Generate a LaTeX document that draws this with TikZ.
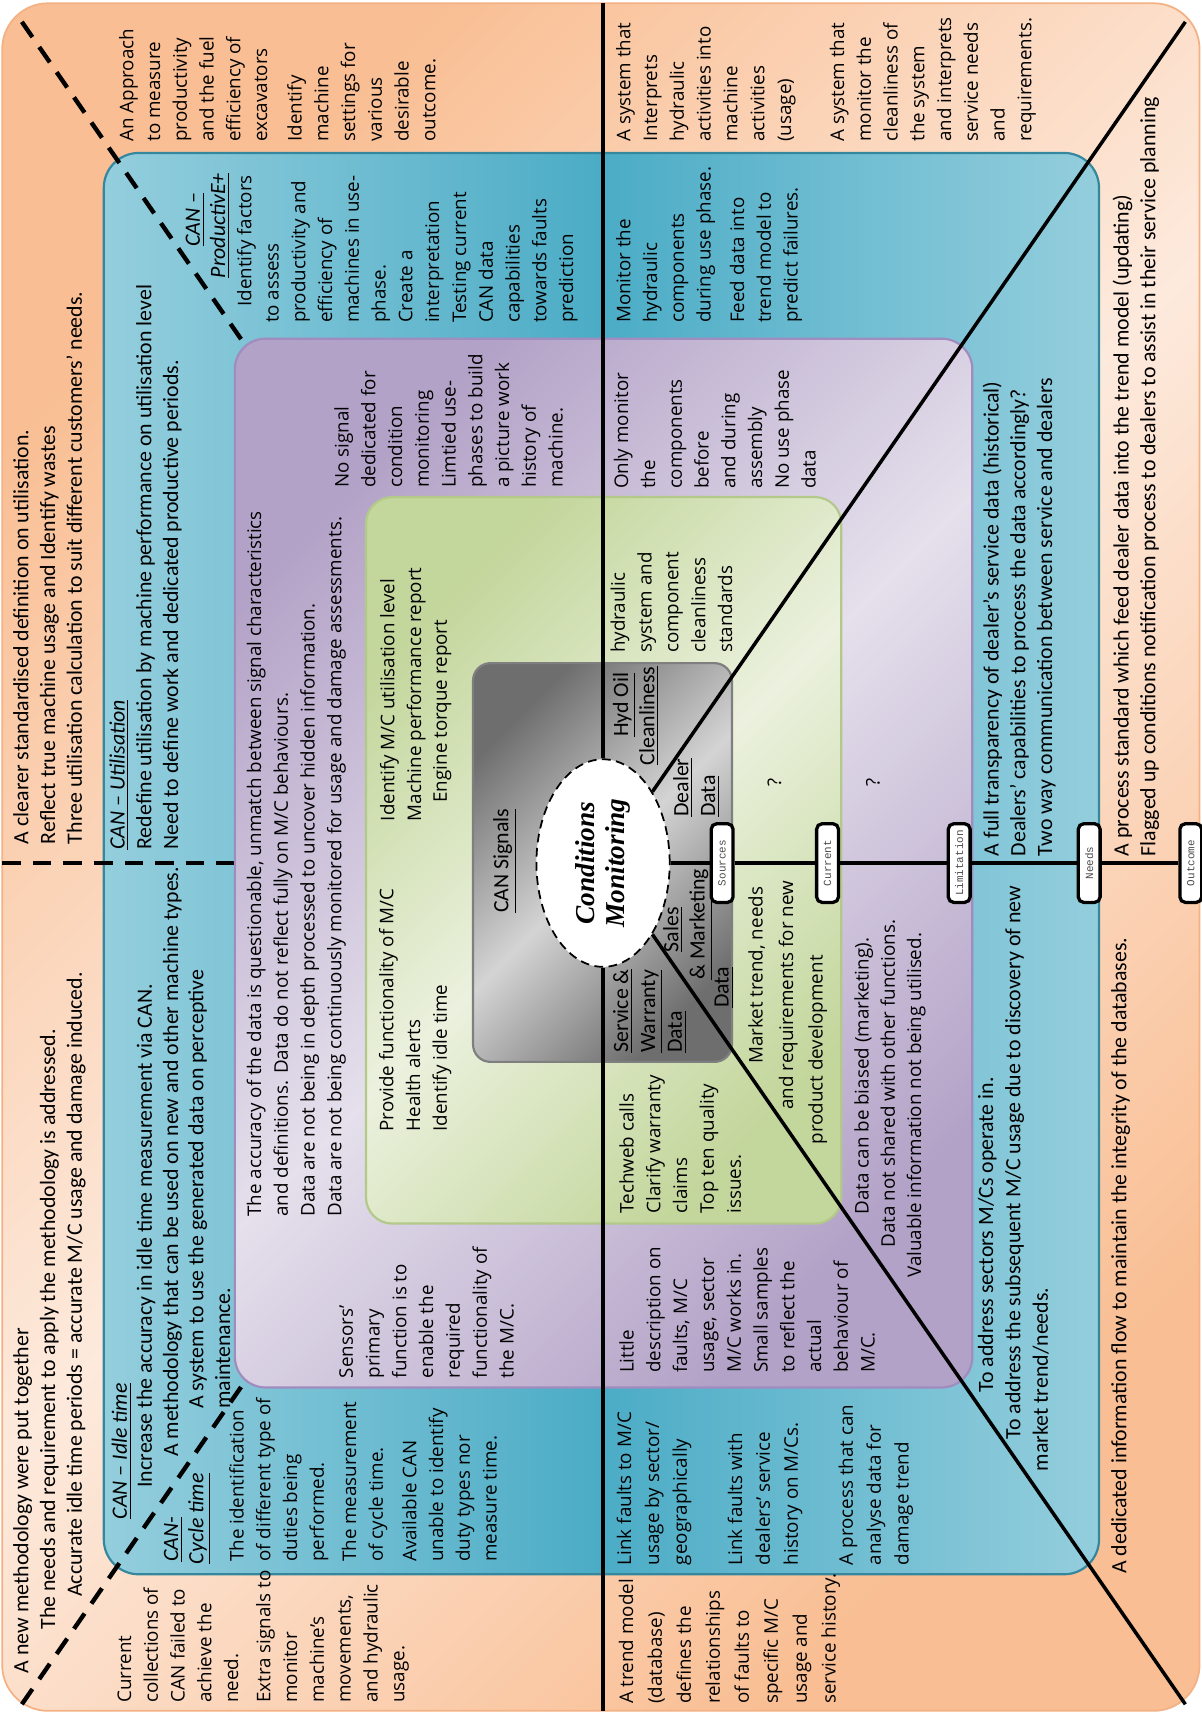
\documentclass[tikz,border=0pt]{standalone}
\usepackage{fontspec}
\usetikzlibrary{shapes.geometric}
\newfontfamily\osans{Open Sans}
\newfontfamily\carl{Carlito}
\newfontfamily\monof{Liberation Mono}
\newfontfamily\serbi{Liberation Serif}
\newcommand\wtxt{\osans\fontsize{8.6}{12.25}\selectfont}
\newcommand\ntxt{\carl\fontsize{10}{12.25}\selectfont}
% rotated text block: name, centre of first line (x), start of lines (y), font, text
\newcommand\rtx[5]{\node[rt,font=#4] (#1) at ({#2-11.5},#3) {\strut #5};}

\definecolor{orD}{HTML}{F9BE93}
\definecolor{orL}{HTML}{FDEADD}
\definecolor{orB}{HTML}{F4B183}
\definecolor{blD}{HTML}{4BACC6}
\definecolor{blL}{HTML}{94CEDD}
\definecolor{blB}{HTML}{35879E}
\definecolor{puD}{HTML}{B3A2C7}
\definecolor{puL}{HTML}{E5E0EC}
\definecolor{puB}{HTML}{A08CBE}
\definecolor{grD}{HTML}{C3D69B}
\definecolor{grL}{HTML}{EBF1DE}
\definecolor{grB}{HTML}{B2C98A}
\definecolor{gyD}{HTML}{6E6E6E}
\definecolor{gyL}{HTML}{D4D4D4}
\definecolor{gyB}{HTML}{7F7F7F}

\begin{document}
\begin{tikzpicture}[x=0.5pt,y=-0.5pt,
  rt/.style={rotate=90,anchor=north west,inner sep=0pt,align=left},
  solidline/.style={line width=1.6pt},
  dashline/.style={line width=2pt,dash pattern=on 8.5pt off 5.5pt},
  tag/.style={draw,line width=1.5pt,fill=white,rounded corners=2.5pt,rotate=90,
    minimum width=36pt,minimum height=10pt,inner sep=0pt,
    font=\monof\fontsize{5}{6}\selectfont,text=black!70}]

\useasboundingbox (0,0) rectangle (1100,1568);
\fill[white] (0,0) rectangle (1100,1568);

% ---- nested frames ----
\shade[rounded corners=21pt,top color=orD,bottom color=orD,middle color=orL,shading angle=45]
  (2,3) rectangle (1098,1566);
\draw[orB,line width=0.8pt,rounded corners=21pt] (2,3) rectangle (1098,1566);

\shade[rounded corners=16pt,left color=blL,right color=blL,middle color=blD]
  (95,140) rectangle (1006,1441);
\draw[blB,line width=1pt,rounded corners=16pt] (95,140) rectangle (1006,1441);

% ---- reference points ----
\coordinate (c) at (552,790);
\coordinate (ctl) at (20,20);
\coordinate (cbl) at (20,1560);
\coordinate (ctr) at (1085,20);
\coordinate (cbr) at (1085,1560);
\coordinate (hl) at (2,790);
\coordinate (vt) at (552,3);
\coordinate (vb) at (552,1566);

% dashed dividers (hidden under the inner frames)
\draw[dashline] (ctl) -- (c);
\draw[dashline] (cbl) -- (c);
\draw[dashline] (hl) -- (c);

\shade[rounded corners=14pt,top color=puD,bottom color=puD,middle color=puL,shading angle=45]
  (215,310) rectangle (890,1270);
\draw[puB,line width=1pt,rounded corners=14pt] (215,310) rectangle (890,1270);

\shade[rounded corners=12pt,top color=grD,bottom color=grD,middle color=grL,shading angle=45]
  (335,455) rectangle (770,1120);
\draw[grB,line width=1pt,rounded corners=12pt] (335,455) rectangle (770,1120);

\shade[rounded corners=8pt,top color=gyD,bottom color=gyD,middle color=gyL,shading angle=45]
  (433,607) rectangle (670,972);
\draw[gyB,line width=1pt,rounded corners=8pt] (433,607) rectangle (670,972);

% ---- centre ----
\node[ellipse,draw,line width=0.8pt,dash pattern=on 4pt off 2.5pt,fill=white,
  minimum width=61pt,minimum height=95pt,inner sep=0pt] (cm) at (552,790) {};
\node[rotate=90,align=center,inner sep=0pt,
  font=\serbi\bfseries\itshape\fontsize{12.5}{14}\selectfont] (cmt) at (cm.center)
  {Conditions\\Monitoring};

\draw[solidline] (cm) -- (vt);
\draw[solidline] (cm) -- (vb);
\draw[solidline] (cm) -- (ctr);
\draw[solidline] (cm) -- (cbr);

\node[tag] (src) at (661,790) {Sources};
\node[tag] (cur) at (757.5,790) {Current};
\node[tag] (lim) at (878,790) {Limitation};
\node[tag] (nds) at (997,790) {Needs};
\node[tag] (out) at (1090,790) {Outcome};
\draw[solidline] (cm) -- (src) -- (cur) -- (lim) -- (nds) -- (out);

% ---- outer band ----
\rtx{tA}{20}{773}{\ntxt}{A clearer standardised definition on utilisation.\\Reflect true machine usage and Identify wastes\\Three utilisation calculation to suit different customers’ needs.}
\rtx{tB1}{20}{1532}{\ntxt}{A new methodology were put together}
\rtx{tB2}{44.5}{1492}{\ntxt}{The needs and requirement to apply the methodology is addressed.}
\rtx{tB3}{69}{1462}{\ntxt}{Accurate idle time periods = accurate M/C usage and damage induced.}
\rtx{tC}{116}{130}{\wtxt}{An Approach\\to measure\\productivity\\and the fuel\\efficiency of\\excavators\\[3.5pt]Identify\\machine\\settings for\\various\\desirable\\outcome.}
\rtx{tD}{571}{130}{\wtxt}{A system that\\Interprets\\hydraulic\\activities into\\machine\\activities\\(usage)\\[12pt]A system that\\monitor the\\cleanliness of\\the system\\and interprets\\service needs\\and\\requirements.}
\rtx{tI}{114}{1559}{\wtxt}{Current\\collections of\\CAN failed to\\achieve the\\need.\\[2.5pt]Extra signals to\\monitor\\machine’s\\movements,\\and hydraulic\\usage.}
\rtx{tZ}{572}{1560}{\osans\fontsize{8.6}{13.25}\selectfont}{A trend model\\(database)\\defines the\\relationships\\of faults to\\specific M/C\\usage and\\service history.}
\rtx{tAA1}{1027}{784}{\ntxt}{A process standard which feed dealer data into the trend model (updating)\\Flagged up conditions notification process to dealers to assist in their service planning}
\rtx{tAA2}{1025}{1441}{\ntxt}{A dedicated information flow to maintain the integrity of the databases.}

% ---- blue band ----
\rtx{tE}{108}{778}{\ntxt}{\underline{\textit{CAN – Utilisation}}\\Redefine utilisation by machine performance on utilisation level\\Need to define work and dedicated productive periods.}
\rtx{tF1}{177}{226}{\ntxt}{\underline{\textit{CAN –}}}
\rtx{tF2}{200}{255}{\ntxt}{\underline{\textit{ProductivE+}}}
\rtx{tF3}{224}{281}{\wtxt}{Identify factors}
\rtx{tF4}{249}{296}{\wtxt}{to assess\\productivity and\\efficiency of\\machines in use-\\phase.\\Create a\\interpretation\\Testing current\\CAN data\\capabilities\\towards faults\\prediction}
\rtx{tG1}{110}{1391}{\ntxt}{\underline{\textit{CAN – Idle time}}}
\rtx{tG2}{133}{1362}{\ntxt}{Increase the accuracy in idle time measurement via CAN.}
\rtx{tG3}{157}{1430}{\ntxt}{\underline{\textit{CAN-}}}
\rtx{tG4}{157}{1334}{\ntxt}{A methodology that can be used on new and other machine types.}
\rtx{tG5}{180}{1432}{\ntxt}{\underline{\textit{Cycle time}}}
\rtx{tG6}{180}{1290}{\ntxt}{A system to use the generated data on perceptive\\maintenance.}
\rtx{tH}{217}{1430}{\wtxt}{The identification\\of different type of\\duties being\\performed.\\[2.5pt]The measurement\\of cycle time.\\[3pt]Available CAN\\unable to identify\\duty types nor\\measure time.}
\rtx{tV}{571}{296}{\wtxt}{Monitor the\\hydraulic\\components\\during use phase.\\[3pt]Feed data into\\trend model to\\predict failures.}
\rtx{tY}{571}{1433}{\osans\fontsize{8.6}{12.75}\selectfont}{Link faults to M/C\\usage by sector/\\geographically\\[12.5pt]Link faults with\\dealers’ service\\history on M/Cs.\\[12.5pt]A process that can\\analyse data for\\damage trend}
\rtx{tW}{908}{784}{\ntxt}{A full transparency of dealer’s service data (historical)\\Dealers’ capabilities to process the data accordingly?\\Two way communication between service and dealers}
\rtx{tX1}{903}{1275}{\ntxt}{To address sectors M/Cs operate in.}
\rtx{tX2}{928}{1318}{\ntxt}{To address the subsequent M/C usage due to discovery of new}
\rtx{tX3}{953}{1347}{\ntxt}{market trend/needs.}

% ---- purple band ----
\rtx{tJ}{233}{1114}{\wtxt}{The accuracy of the data is questionable, unmatch between signal characteristics\\and definitions. Data do not reflect fully on M/C behaviours.\\Data are not being in depth processed to uncover hidden information.\\Data are not being continuously monitored for usage and damage assessments.}
\rtx{tK}{317}{1262}{\wtxt}{Sensors’\\primary\\function is to\\enable the\\required\\functionality of\\the M/C.}
\rtx{tL}{313}{447}{\wtxt}{No signal\\dedicated for\\condition\\monitoring\\Limtied use-\\phases to build\\a picture work\\history of\\machine.}
\rtx{tM}{569}{448}{\wtxt}{Only monitor\\the\\components\\before\\and during\\assembly\\No use phase\\data}
\rtx{tU}{574}{1257}{\wtxt}{Little\\description on\\faults, M/C\\usage, sector\\M/C works in.\\Small samples\\to reflect the\\actual\\behaviour of\\M/C.}
\rtx{tT1}{789}{1112}{\wtxt}{Data can be biased (marketing).}
\rtx{tT2}{813}{1142}{\wtxt}{Data not shared with other functions.}
\rtx{tT3}{837}{1170}{\wtxt}{Valuable information not being utilised.}
\node[rotate=90,inner sep=0pt,font=\wtxt] (q2) at (799,716) {?};

% ---- green band ----
\rtx{tN1}{355}{752}{\wtxt}{Identify M/C utilisation level\\Machine performance report}
\rtx{tN2}{403}{735}{\wtxt}{Engine torque report}
\rtx{tO}{354}{1036}{\wtxt}{Provide functionality of M/C\\Health alerts\\Identify idle time}
\rtx{tP}{566}{598}{\wtxt}{hydraulic\\system and\\component\\cleanliness\\standards}
\rtx{tR}{574}{1111}{\wtxt}{Techweb calls\\Clarify warranty\\claims\\Top ten quality\\issues.}
\rtx{tS1}{692}{974}{\wtxt}{Market trend, needs}
\rtx{tS2}{720}{1016}{\wtxt}{and requirements for new}
\rtx{tS3}{747}{1048}{\wtxt}{product development}
\node[rotate=90,inner sep=0pt,font=\wtxt] (q1) at (709,716) {?};

% ---- grey core ----
\node[rotate=90,inner sep=0pt,font=\ntxt] (csig) at (462,788) {\underline{CAN Signals}};
\rtx{gH1}{569}{675}{\ntxt}{\underline{Hyd Oil}}
\rtx{gH2}{593}{701}{\ntxt}{\underline{Cleanliness}}
\rtx{gD}{624}{748}{\ntxt}{\underline{Dealer}\\\underline{Data}}
\rtx{gS}{569}{964}{\ntxt}{\underline{Service \&}\\\underline{Warranty}\\\underline{Data}}
\rtx{gM1}{615}{872}{\ntxt}{\underline{Sales}}
\rtx{gM2}{639}{897}{\ntxt}{\underline{\& Marketing}}
\rtx{gM3}{661}{923}{\ntxt}{\underline{Data}}

\end{tikzpicture}
\end{document}
